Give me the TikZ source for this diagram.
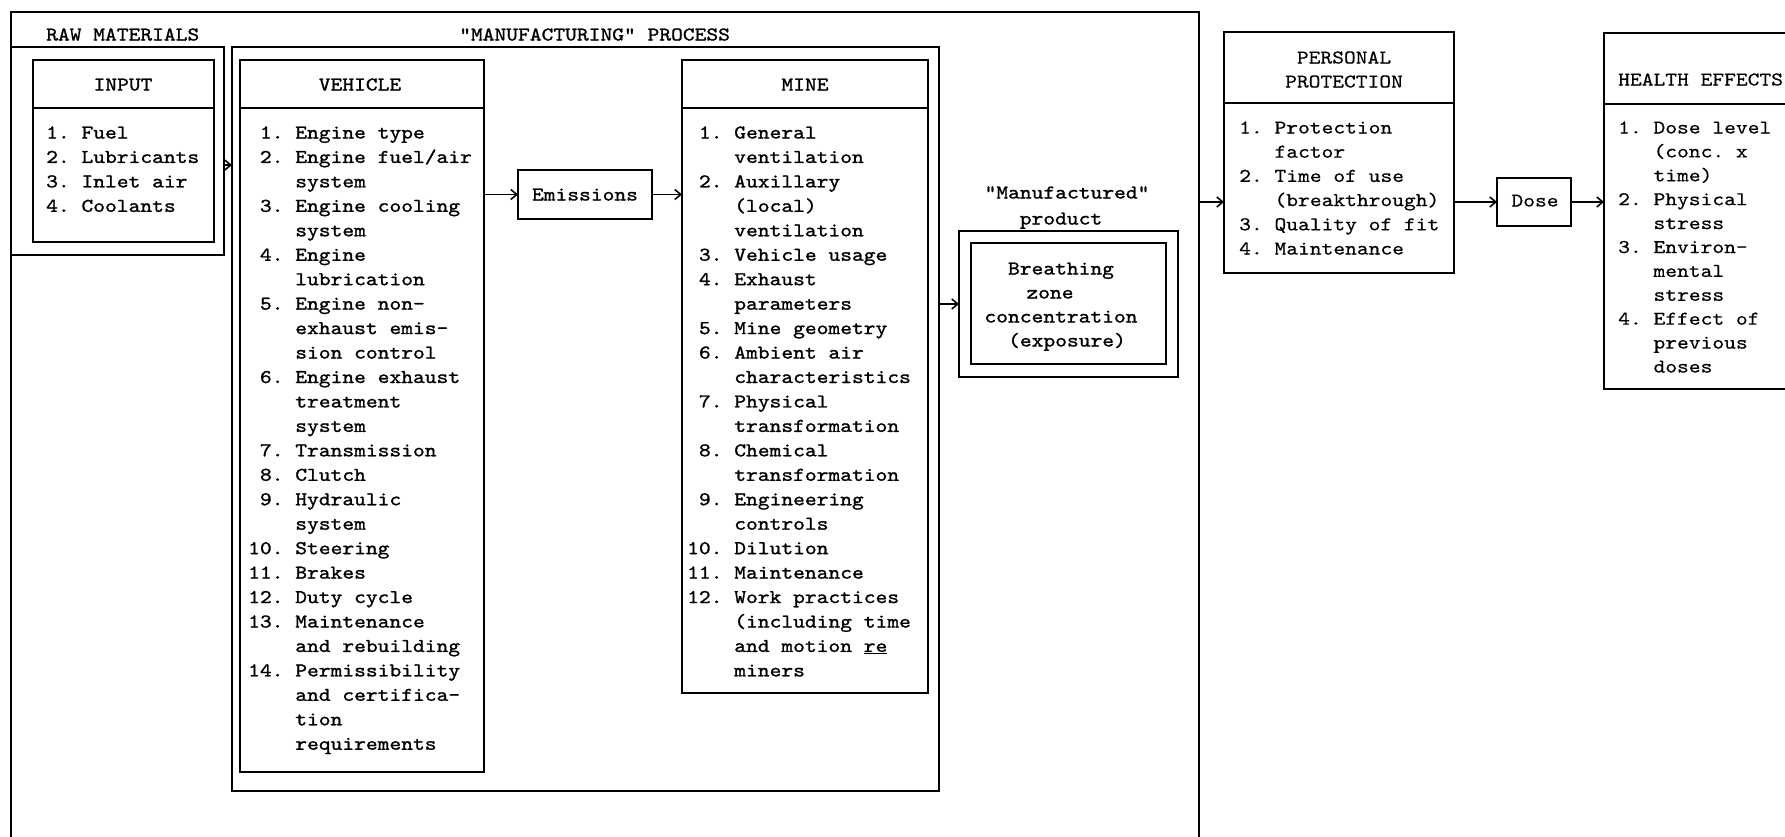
\documentclass[tikz,border=0pt]{standalone}
\usepackage{fontspec}
\usetikzlibrary{arrows.meta}
\newfontfamily\tw{lmmono10-regular.otf}[Ligatures=TeXOff,FakeStretch=1.15,FakeBold=1.2]
\newfontfamily\twl{lmmono10-regular.otf}[Ligatures=TeXOff,FakeStretch=1.15,FakeBold=0.4]
\begin{document}
\begin{tikzpicture}[x=1pt,y=-1pt,
  box/.style={draw, line width=1.8pt, inner sep=0pt, outer sep=0pt, anchor=north west},
  txt/.style={font=\tw\fontsize{19.5}{24}\selectfont\frenchspacing, inner sep=0pt, anchor=base west},
  ctxt/.style={txt, anchor=base},
  ltxt/.style={txt, font=\twl\fontsize{19.5}{24}\selectfont\frenchspacing},
  lctxt/.style={ltxt, anchor=base},
  arr/.style={line width=1.6pt, -{Straight Barb[length=6pt,width=10pt]}},
  sepline/.style={line width=1.6pt}]
\useasboundingbox (0,0) rectangle (1785,836);
\begin{scope}
\clip (0,0) rectangle (1785,836);
% boxes
\node[box, minimum width=1188pt, minimum height=900pt] (outer) at (11,12) {};
\node[box, minimum width=213pt, minimum height=208pt] (raw) at (11,47) {};
\node[box, minimum width=181pt, minimum height=182pt] (input) at (33,60) {};
\node[box, minimum width=707pt, minimum height=744pt] (mfg) at (232,47) {};
\node[box, minimum width=244pt, minimum height=712pt] (veh) at (240,60) {};
\node[box, minimum width=134pt, minimum height=49pt] (em) at (518,170) {};
\node[box, minimum width=246pt, minimum height=633pt] (mine) at (682,60) {};
\node[box, minimum width=219pt, minimum height=146pt] (prodout) at (959,231) {};
\node[box, minimum width=195pt, minimum height=121pt] (prodin) at (971,243) {};
\node[box, minimum width=230pt, minimum height=241pt] (pp) at (1224,32) {};
\node[box, minimum width=74pt, minimum height=48pt] (dose) at (1497,178) {};
\node[box, minimum width=250pt, minimum height=356pt] (he) at (1604,33) {};
% header separators
\draw[sepline] (input.west |- 0,108) -- (input.east |- 0,108);
\draw[sepline] (veh.west |- 0,108) -- (veh.east |- 0,108);
\draw[sepline] (mine.west |- 0,108) -- (mine.east |- 0,108);
\draw[sepline] (pp.west |- 0,103) -- (pp.east |- 0,103);
\draw[sepline] (he.west |- 0,104) -- (he.east |- 0,104);
% connectors
\draw[arr] (raw.east |- 0,165) -- (mfg.west |- 0,165);
\draw[arr] (veh.east |- em.west) -- (em.west);
\draw[arr] (em.east) -- (mine.west |- em.east);
\draw[arr] (mfg.east |- prodout.west) -- (prodout.west);
\draw[arr] (outer.east |- dose.west) -- (pp.west |- dose.west);
\draw[arr] (pp.east |- dose.west) -- (dose.west);
\draw[arr] (dose.east) -- (he.west |- dose.east);
% titles and headers
\node[txt] (tRaw) at (46,40.5) {RAW MATERIALS};
\node[txt] (tMfg) at (459,40.5) {"MANUFACTURING" PROCESS};
\node[ctxt] (tInput) at (123,90.5) {INPUT};
\node[ctxt] (tVeh) at (360,90.5) {VEHICLE};
\node[ctxt] (tMine) at (805,90.5) {MINE};
\node[ctxt] (tEm) at (585,200.5) {Emissions};
\node[lctxt] (tP1) at (1344,63.5) {PERSONAL};
\node[lctxt] (tP2) at (1344,87.5) {PROTECTION};
\node[ltxt] (tHE) at (1618,85.5) {HEALTH EFFECTS};
\node[lctxt] (tDose) at (1535,206.5) {Dose};
\node[ctxt] (tMan) at (1067,198.5) {"Manufactured"};
\node[ctxt] (tProd) at (1061,224.5) {product};
\node[ctxt] (tB1) at (1061,274.5) {Breathing};
\node[ctxt] (tB2) at (1050,298.5) {zone};
\node[ctxt] (tB3) at (1061,322.5) {concentration};
\node[ctxt] (tB4) at (1067,346.5) {(exposure)};
% lists
\foreach \t [count=\i from 0] in {{1.~Fuel},{2.~Lubricants},{3.~Inlet air},{4.~Coolants}}
  \node[txt] (in\i) at (46,138.5+\i*24.45) {\t};
\foreach \t [count=\i from 0] in {{~1.~Engine type},{~2.~Engine fuel/air},{~~~~system},{~3.~Engine cooling},{~~~~system},{~4.~Engine},{~~~~lubrication},{~5.~Engine non-},{~~~~exhaust emis-},{~~~~sion control},{~6.~Engine exhaust},{~~~~treatment},{~~~~system},{~7.~Transmission},{~8.~Clutch},{~9.~Hydraulic},{~~~~system},{10.~Steering},{11.~Brakes},{12.~Duty cycle},{13.~Maintenance},{~~~~and rebuilding},{14.~Permissibility},{~~~~and certifica-},{~~~~tion},{~~~~requirements}}
  \node[txt] (ve\i) at (248,138.5+\i*24.45) {\t};
\foreach \t [count=\i from 0] in {{~1.~General},{~~~~ventilation},{~2.~Auxillary},{~~~~(local)},{~~~~ventilation},{~3.~Vehicle usage},{~4.~Exhaust},{~~~~parameters},{~5.~Mine geometry},{~6.~Ambient air},{~~~~characteristics},{~7.~Physical},{~~~~transformation},{~8.~Chemical},{~~~~transformation},{~9.~Engineering},{~~~~controls},{10.~Dilution},{11.~Maintenance},{12.~Work practices},{~~~~(including time},{~~~~and motion \underline{re}},{~~~~miners}}
  \node[txt] (mi\i) at (687,138.5+\i*24.45) {\t};
\foreach \t [count=\i from 0] in {{1.~Protection},{~~~factor},{2.~Time of use},{~~~(breakthrough)},{3.~Quality of fit},{4.~Maintenance}}
  \node[ltxt] (pr\i) at (1239,133.5+\i*24.2) {\t};
\foreach \t [count=\i from 0] in {{1.~Dose level},{~~~(conc. x},{~~~time)},{2.~Physical},{~~~stress},{3.~Environ-},{~~~mental},{~~~stress},{4.~Effect of},{~~~previous},{~~~doses}}
  \node[ltxt] (he\i) at (1618,133.5+\i*23.9) {\t};
\end{scope}
\end{tikzpicture}
\end{document}
